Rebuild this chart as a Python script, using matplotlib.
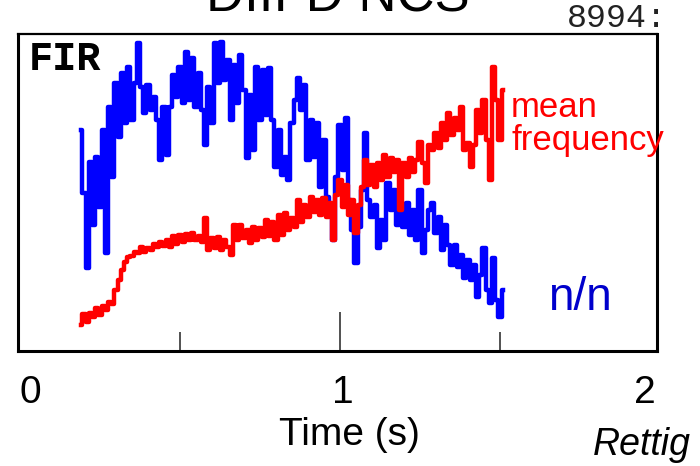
import matplotlib
matplotlib.use("Agg")
import matplotlib.pyplot as plt

plt.rcParams['font.family'] = ['Liberation Sans', 'DejaVu Sans']

# sample times (s)
t = [0.19, 0.20, 0.21, 0.22, 0.23, 0.24, 0.25, 0.26, 0.27, 0.28,
     0.29, 0.30, 0.31, 0.32, 0.33, 0.34, 0.35, 0.36, 0.37, 0.38,
     0.39, 0.40, 0.41, 0.42, 0.43, 0.44, 0.45, 0.46, 0.47, 0.48,
     0.49, 0.50, 0.51, 0.52, 0.53, 0.54, 0.55, 0.56, 0.57, 0.58,
     0.59, 0.60, 0.61, 0.62, 0.63, 0.64, 0.65, 0.66, 0.67, 0.68,
     0.69, 0.70, 0.71, 0.72, 0.73, 0.74, 0.75, 0.76, 0.77, 0.78,
     0.79, 0.80, 0.81, 0.82, 0.83, 0.84, 0.85, 0.86, 0.87, 0.88,
     0.89, 0.90, 0.91, 0.92, 0.93, 0.94, 0.95, 0.96, 0.97, 0.98,
     0.99, 1.00, 1.01, 1.02, 1.03, 1.04, 1.05, 1.06, 1.07, 1.08,
     1.09, 1.10, 1.11, 1.12, 1.13, 1.14, 1.15, 1.16, 1.17, 1.18,
     1.19, 1.20, 1.21, 1.22, 1.23, 1.24, 1.25, 1.26, 1.27, 1.28,
     1.29, 1.30, 1.31, 1.32, 1.33, 1.34, 1.35, 1.36, 1.37, 1.38,
     1.39, 1.40, 1.41, 1.42, 1.43, 1.44, 1.45, 1.46, 1.47, 1.48,
     1.49, 1.50, 1.51]

# n/n fluctuation level (arb. units)
nn = [2.21, 1.58, 0.83, 1.89, 1.26, 1.94, 1.44, 2.21, 0.98, 2.44,
      1.74, 2.68, 2.14, 2.78, 2.28, 2.84, 2.31, 2.68, 3.08, 2.64,
      2.38, 2.66, 2.41, 2.54, 2.31, 1.91, 2.44, 1.96, 2.44, 2.76,
      2.54, 2.84, 2.48, 2.99, 2.51, 2.93, 2.44, 2.78, 2.41, 2.06,
      2.64, 2.28, 3.08, 2.68, 3.09, 2.71, 2.91, 2.31, 2.86, 2.48,
      2.96, 2.61, 1.93, 2.56, 2.01, 2.84, 2.31, 2.81, 2.36, 2.83,
      2.31, 1.84, 2.21, 1.76, 1.94, 1.71, 2.28, 2.51, 2.73, 2.41,
      2.66, 1.91, 2.31, 1.94, 2.28, 1.64, 2.11, 1.54, 1.41, 1.11,
      1.74, 2.26, 1.81, 2.33, 1.51, 1.21, 0.88, 1.24, 1.61, 2.18,
      1.51, 1.34, 1.46, 1.03, 1.31, 1.11, 1.68, 1.41, 1.61, 1.26,
      1.46, 1.24, 1.48, 1.16, 1.41, 1.11, 1.61, 0.98, 1.21, 1.41,
      1.48, 1.18, 1.34, 1.01, 1.26, 1.06, 0.86, 1.06, 0.84, 0.96,
      0.73, 0.91, 0.71, 0.86, 0.54, 0.76, 1.03, 0.61, 0.48, 0.93,
      0.51, 0.34, 0.61]

# mean frequency (arb. units)
freq = [0.26, 0.37, 0.29, 0.38, 0.34, 0.43, 0.36, 0.45, 0.41, 0.49,
        0.47, 0.61, 0.71, 0.81, 0.89, 0.94, 0.95, 0.99, 0.98, 1.04,
        0.99, 1.03, 1.01, 1.07, 1.04, 1.09, 1.05, 1.11, 1.04, 1.15,
        1.07, 1.16, 1.09, 1.17, 1.11, 1.18, 1.11, 1.15, 1.09, 1.33,
        1.01, 1.13, 1.03, 1.14, 1.01, 1.11, 1.04, 0.96, 1.26, 1.11,
        1.26, 1.13, 1.21, 1.08, 1.24, 1.11, 1.23, 1.14, 1.31, 1.15,
        1.29, 1.11, 1.36, 1.16, 1.38, 1.21, 1.33, 1.24, 1.51, 1.29,
        1.46, 1.34, 1.54, 1.39, 1.51, 1.36, 1.53, 1.34, 1.48, 1.11,
        1.56, 1.71, 1.44, 1.66, 1.36, 1.51, 1.18, 1.46, 1.64, 1.91,
        1.66, 1.86, 1.64, 1.88, 1.71, 1.96, 1.74, 1.93, 1.79, 1.91,
        1.41, 1.88, 1.74, 1.93, 1.79, 1.91, 2.09, 1.88, 1.68, 2.06,
        2.01, 2.18, 2.03, 2.28, 2.11, 2.38, 2.16, 2.33, 2.21, 2.44,
        2.01, 2.08, 1.84, 2.06, 2.41, 2.18, 2.51, 2.11, 1.71, 2.84,
        2.51, 2.11, 2.61]

fig = plt.figure(figsize=(7, 4.66), dpi=100)
ax = fig.add_axes([18/700, 1 - 351/466, 639/700, 317/466])

ax.plot(t, nn, color='#0000ff', lw=3.2, drawstyle='steps-mid')
ax.plot(t, freq, color='#ff0000', lw=3.2, drawstyle='steps-mid')

ax.set_xlim(-0.00625, 1.990625)
ax.set_ylim(0, 3.17)

for side in ['left', 'right', 'bottom']:
    ax.spines[side].set_linewidth(2.2)
ax.spines['top'].set_linewidth(1.6)

ax.set_yticks([])
ax.set_xticks([1.0])
ax.set_xticks([0.5, 1.5], minor=True)
ax.tick_params(axis='x', which='major', direction='in', length=28, width=1.2,
               color='#333333', labelbottom=False)
ax.tick_params(axis='x', which='minor', direction='in', length=14, width=1.2,
               color='#333333', labelbottom=False)

ax.text(0.017, 0.886, 'FIR', transform=ax.transAxes, fontsize=29,
        family=['Liberation Mono', 'DejaVu Sans Mono'], fontweight='bold',
        va='baseline', ha='left')

# labels pasted around the plot
fig.text(0.483, 1 - 11/466, 'DIII-D NCS', fontsize=38, ha='center', va='baseline')
fig.text(567/700, 1 - 27/466, '8994:', fontsize=24, ha='left', va='baseline',
         family=['Liberation Mono', 'DejaVu Sans Mono'], color='#222222')
mf = fig.text(511/700, 1 - 117/466, 'mean', fontsize=25, color='#ff0000', va='baseline')
fq = fig.text(511/700, 1 - 150/466, 'frequency', fontsize=25, color='#ff0000', va='baseline')
fq.set_zorder(5)
fig.text(548/700, 1 - 310/466, 'n/n', fontsize=33, color='#0000cc', va='baseline')

for lab, px in zip(['0', '1', '2'], [30, 343, 645]):
    fig.text(px/700, 1 - 403/466, lab, fontsize=28, ha='center', va='baseline')
fig.text(349/700, 1 - 445/466, 'Time (s)', fontsize=28, ha='center', va='baseline')
fig.text(593/700, 1 - 455/466, 'Rettig', fontsize=27, style='italic', va='baseline')

fig.savefig('out.png', dpi=100)
